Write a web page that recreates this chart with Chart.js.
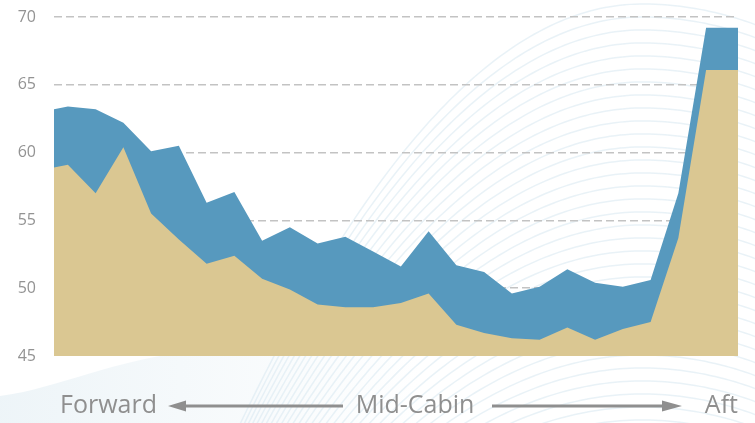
<!DOCTYPE html>
<html>
<head>
<meta charset="utf-8">
<script src="https://cdn.jsdelivr.net/npm/chart.js@4.4.1/dist/chart.umd.min.js"></script>
<style>
    html, body { margin: 0; padding: 0; background: #ffffff; }
    #wrap { width: 755px; height: 423px; position: relative; }
</style>
</head>
<body>
<div id="wrap"><canvas id="cabinChart"></canvas></div>
<script>
// position along the cabin (row pitch units)
var cabinPos = [0, 0.5, 1.5, 2.5, 3.5, 4.5, 5.5, 6.5, 7.5, 8.5, 9.5, 10.5, 11.5, 12.5,
    13.5, 14.5, 15.5, 16.5, 17.5, 18.5, 19.5, 20.5, 21.5, 22.5, 23.5, 24.65];
var upperLevels = [63.2, 63.4, 63.2, 62.2, 60.1, 60.5, 56.3, 57.1, 53.5, 54.5, 53.3, 53.8, 52.7,
    51.6, 54.2, 51.7, 51.2, 49.6, 50.1, 51.4, 50.4, 50.1, 50.6, 57.0, 69.2, 69.2];
var lowerLevels = [58.9, 59.1, 57.0, 60.4, 55.5, 53.6, 51.8, 52.4, 50.7, 49.9, 48.8, 48.6, 48.6,
    48.9, 49.6, 47.3, 46.7, 46.3, 46.2, 47.1, 46.2, 47.0, 47.5, 53.7, 66.1, 66.1];
var yTicks = [45, 50, 55, 60, 65, 70];
var zoneLabels = ['Forward', 'Mid-Cabin', 'Aft'];

function toPoints(vals) {
    return vals.map(function (v, i) { return { x: cabinPos[i], y: v }; });
}

// light wavy lines behind the chart
var backdrop = {
    id: 'backdrop',
    beforeDraw: function (chart) {
        var ctx = chart.ctx;
        ctx.save();
        ctx.fillStyle = '#ffffff';
        ctx.fillRect(0, 0, chart.width, chart.height);

        var g = ctx.createLinearGradient(0, 0, 420, 0);
        g.addColorStop(0, 'rgba(230,240,245,0.7)');
        g.addColorStop(1, 'rgba(230,240,245,0)');
        ctx.fillStyle = g;
        ctx.beginPath();
        ctx.moveTo(0, 396);
        ctx.bezierCurveTo(60, 388, 110, 360, 200, 350);
        ctx.lineTo(420, 345);
        ctx.lineTo(420, 423);
        ctx.lineTo(0, 423);
        ctx.closePath();
        ctx.fill();

        ctx.strokeStyle = 'rgba(218,234,242,0.6)';
        ctx.lineWidth = 1.5;
        for (var i = 0; i < 34; i++) {
            var peak = 4 + i * 13;
            ctx.beginPath();
            for (var x = 0; x <= 760; x += 5) {
                var d = x - 642;
                var a = d < 0 ? 0.0026 - i * 0.00003 : 0.0016;
                var y = peak + a * d * d;
                if (x === 0) ctx.moveTo(x, y); else ctx.lineTo(x, y);
            }
            ctx.stroke();
        }
        ctx.restore();
    }
};

// Forward <---- Mid-Cabin ----> Aft
var zoneAxis = {
    id: 'zoneAxis',
    afterDraw: function (chart) {
        var ctx = chart.ctx;
        var area = chart.chartArea;
        var y = 406;
        ctx.save();
        ctx.font = '25px "Open Sans"';
        ctx.fillStyle = '#8f8f8f';
        ctx.textBaseline = 'middle';
        ctx.textAlign = 'left';
        ctx.fillText(zoneLabels[0], 60, y);
        ctx.textAlign = 'center';
        ctx.fillText(zoneLabels[1], 415, y);
        ctx.textAlign = 'right';
        ctx.fillText(zoneLabels[2], area.right, y);

        ctx.strokeStyle = '#8f8f8f';
        ctx.lineWidth = 3;
        ctx.beginPath();
        ctx.moveTo(184, y); ctx.lineTo(343, y);
        ctx.moveTo(492, y); ctx.lineTo(664, y);
        ctx.stroke();
        ctx.beginPath();
        ctx.moveTo(168, y); ctx.lineTo(186, y - 5.5); ctx.lineTo(186, y + 5.5); ctx.closePath();
        ctx.moveTo(682, y); ctx.lineTo(662, y - 5.5); ctx.lineTo(662, y + 5.5); ctx.closePath();
        ctx.fill();
        ctx.restore();
    }
};

var ctx = document.getElementById('cabinChart').getContext('2d');
var cabinChart = new Chart(ctx, {
    type: 'line',
    data: {
        datasets: [{
            label: 'Lower',
            data: toPoints(lowerLevels),
            backgroundColor: '#dac792',
            borderWidth: 0,
            pointRadius: 0,
            fill: 'start'
        }, {
            label: 'Upper',
            data: toPoints(upperLevels),
            backgroundColor: '#5799be',
            borderWidth: 0,
            pointRadius: 0,
            fill: 'start'
        }]
    },
    options: {
        responsive: true,
        maintainAspectRatio: false,
        animation: false,
        layout: { padding: { top: 17, right: 17, bottom: 67, left: 0 } },
        plugins: { legend: { display: false }, tooltip: { enabled: false } },
        scales: {
            x: {
                type: 'linear',
                min: cabinPos[0],
                max: cabinPos[cabinPos.length - 1],
                display: false
            },
            y: {
                min: yTicks[0],
                max: yTicks[yTicks.length - 1],
                afterBuildTicks: function (scale) {
                    scale.ticks = yTicks.map(function (v) { return { value: v }; });
                },
                afterFit: function (scale) {
                    scale.width = 54;
                    // don't let the tick padding push the plot down
                    scale.paddingTop = 0;
                    scale.paddingBottom = 0;
                },
                ticks: {
                    color: '#939393',
                    font: { family: 'Open Sans', size: 16 },
                    padding: 18
                },
                grid: {
                    color: function (c) {
                        return c.tick && c.tick.value === yTicks[0] ? 'rgba(0,0,0,0)' : '#c3c3c3';
                    },
                    lineWidth: 1.5,
                    drawTicks: false
                },
                border: { display: false, dash: [8, 4] }
            }
        }
    },
    plugins: [backdrop, zoneAxis]
});
</script>
</body>
</html>
